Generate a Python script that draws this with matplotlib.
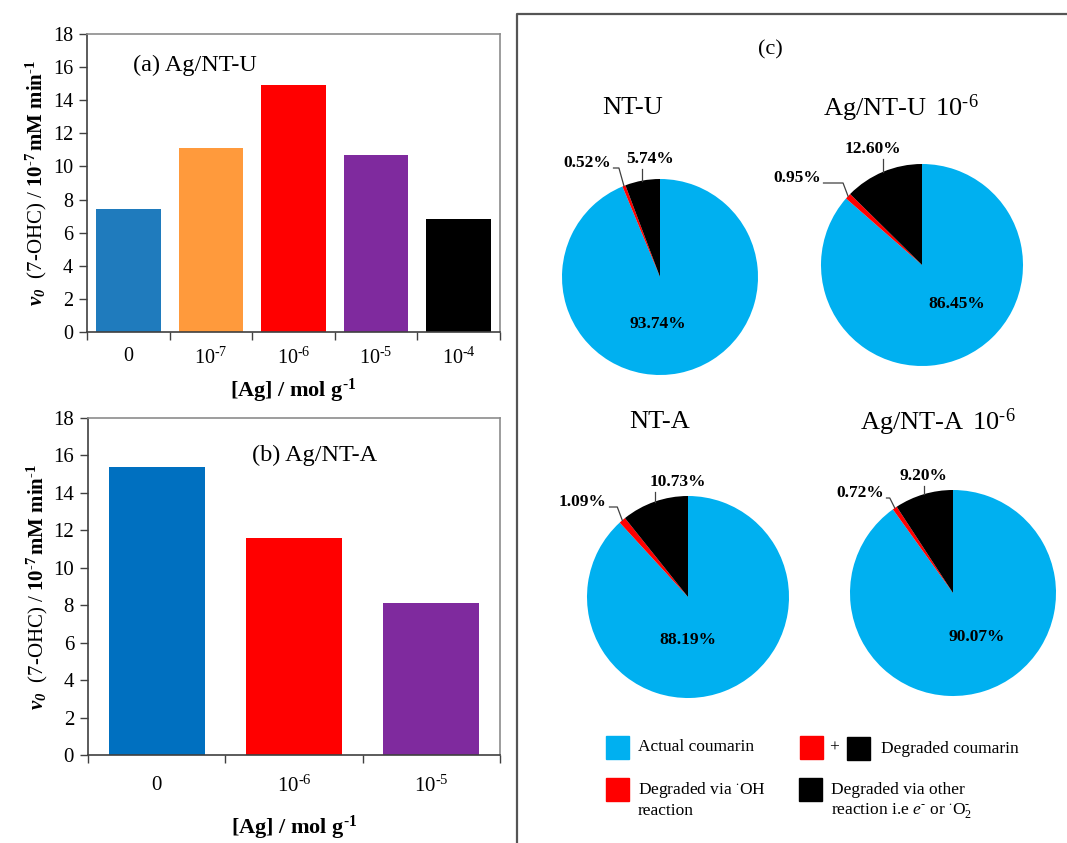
import numpy as np
import matplotlib
matplotlib.use("Agg")
import matplotlib.pyplot as plt
from matplotlib.patches import Rectangle

plt.rcParams['font.family'] = ['Liberation Serif', 'DejaVu Serif']
plt.rcParams['mathtext.fontset'] = 'custom'
plt.rcParams['mathtext.rm'] = 'Liberation Serif'
plt.rcParams['mathtext.it'] = 'Liberation Serif:italic'
plt.rcParams['mathtext.bf'] = 'Liberation Serif:bold'
plt.rcParams['mathtext.bfit'] = 'Liberation Serif:italic:bold'

HY = '\u2010'  # hyphen used in the exponents

# initial rate of 7-OHC formation, Ag/NT-U series
ag_u_labels = ['0', f'$10^{{{HY}7}}$', f'$10^{{{HY}6}}$', f'$10^{{{HY}5}}$', f'$10^{{{HY}4}}$']
ag_u_rate = [7.4, 11.1, 14.9, 10.7, 6.8]
ag_u_colors = ['#1f7bbd', '#ff9a3c', '#ff0000', '#7f2a9e', '#000000']

# Ag/NT-A series
ag_a_labels = ['0', f'$10^{{{HY}6}}$', f'$10^{{{HY}5}}$']
ag_a_rate = [15.4, 11.6, 8.1]
ag_a_colors = ['#0070c0', '#ff0000', '#7f2a9e']

# coumarin balance (%): actual, degraded via OH, degraded via other routes
pie_titles = ['NT-U', f'Ag/NT-U $\\,10^{{{HY}6}}$', 'NT-A', f'Ag/NT-A $\\,10^{{{HY}6}}$']
actual = [93.74, 86.45, 88.19, 90.07]
via_oh = [0.52, 0.95, 1.09, 0.72]
via_other = [5.74, 12.60, 10.73, 9.20]
pie_colors = ['#00b0f0', '#ff0000', '#000000']

YLABEL = f'$\\mathbfit{{v_0}}$  (7-OHC) / $\\mathbf{{10^{{{HY}7}}\\,mM\\ min^{{{HY}1}}}}$'
XLABEL = f'[Ag] / mol g$^{{\\mathbf{{{HY}1}}}}$'

W, H = 1067, 843
fig = plt.figure(figsize=(W / 100, H / 100), dpi=100)


def px_axes(left, top, right, bottom):
    return fig.add_axes([left / W, 1 - bottom / H, (right - left) / W, (bottom - top) / H])


def bar_panel(ax, labels, values, colors, width, title, title_xy, tick_fs, xtick_pad):
    x = np.arange(len(values))
    ax.bar(x, values, width=width, color=colors, zorder=2)
    ax.set_xlim(-0.5, len(values) - 0.5)
    ax.set_ylim(0, 18)
    ax.set_yticks(np.arange(0, 19, 2))
    ax.set_xticks(x)
    ax.set_xticklabels(labels, fontsize=tick_fs)
    ax.set_xticks(np.arange(-0.5, len(values)), minor=True)
    ax.tick_params(axis='x', which='major', length=0, pad=xtick_pad)
    ax.tick_params(axis='x', which='minor', length=6, width=1, color='#404040')
    ax.tick_params(axis='y', length=6, width=1, color='#404040', labelsize=tick_fs, pad=4)
    for s in ['left', 'bottom']:
        ax.spines[s].set_color('#404040')
        ax.spines[s].set_linewidth(1.2)
    for s in ['top', 'right']:
        ax.spines[s].set_color('#8c8c8c')
        ax.spines[s].set_linewidth(1.2)
    ax.text(*title_xy, title, transform=ax.transAxes, fontsize=17.5, ha='center', va='center')
    ax.set_ylabel(YLABEL, fontsize=15)
    ax.set_xlabel(XLABEL, fontsize=16, fontweight='bold')


ax_a = px_axes(87, 34, 500, 332)
bar_panel(ax_a, ag_u_labels, ag_u_rate, ag_u_colors, 0.78, '(a) Ag/NT-U', (0.26, 0.896), 14.5, 11)
ax_a.xaxis.labelpad = 6
ax_a.yaxis.labelpad = 3

ax_b = px_axes(88, 418, 500, 755)
bar_panel(ax_b, ag_a_labels, ag_a_rate, ag_a_colors, 0.70, '(b) Ag/NT-A', (0.55, 0.89), 15, 15)
ax_b.xaxis.labelpad = 12
ax_b.yaxis.labelpad = 2

# overlay in pixel units (y down) for panel (c)
ov = fig.add_axes([0, 0, 1, 1])
ov.patch.set_alpha(0)

ov.plot([517, 517, 1070], [850, 14, 14], color='#555555', lw=1.6, clip_on=False)
ov.text(770, 50, '(c)', fontsize=16, ha='center', va='center')

centers = [(660, 277), (922, 265), (688, 597), (953, 593)]
radii = [98, 101, 101, 103]
title_pos = [(633, 108), (901, 108), (660, 422), (938, 422)]
# label offsets from pie centre: actual, OH, other
lab_off = [
    [(-2, 47), (-73, -114), (-10, -118)],
    [(35, 39), (-125, -87), (-49, -116)],
    [(0, 43), (-105, -95), (-10, -115)],
    [(24, 44), (-93, -100), (-30, -117)],
]

for i in range(4):
    cx, cy = centers[i]
    r = radii[i]
    vals = [actual[i], via_oh[i], via_other[i]]
    ov.pie(vals, colors=pie_colors, startangle=-90, counterclock=True,
           center=(cx, cy), radius=r, frame=True,
           wedgeprops=dict(linewidth=0))
    ov.text(*title_pos[i], pie_titles[i], fontsize=19, ha='center', va='center')

    # wedge mid-angles measured clockwise from the top on screen
    fr = np.cumsum([0] + vals) / sum(vals) * 360
    for k in range(3):
        dx, dy = lab_off[i][k]
        tx, ty = cx + dx, cy + dy
        txt = f'{vals[k]:.2f}%'
        ov.text(tx, ty, txt, fontsize=12.5, fontweight='bold',
                ha='center', va='center')
        if k == 0:
            continue
        mid = np.radians((fr[k] + fr[k + 1]) / 2)
        wx, wy = cx + r * np.sin(mid), cy - r * np.cos(mid)
        if k == 2:
            ov.plot([wx, wx], [wy, ty + 10], color='#404040', lw=0.9)
        else:
            x0 = tx + 4.9 * len(txt) + 2
            ov.plot([x0, max(wx - 5, x0 + 3), wx], [ty + 5, ty + 5, wy],
                    color='#404040', lw=0.9)

# legend
fs_leg = 12.5
ov.add_patch(Rectangle((606, 736), 23, 23, color=pie_colors[0]))
ov.text(638, 747, 'Actual coumarin', fontsize=fs_leg, va='center')
ov.add_patch(Rectangle((800, 736), 23, 23, color=pie_colors[1]))
ov.text(834, 748, '+', fontsize=fs_leg, ha='center', va='center')
ov.add_patch(Rectangle((847, 737), 23, 23, color=pie_colors[2]))
ov.text(881, 749, 'Degraded coumarin', fontsize=fs_leg, va='center')
ov.add_patch(Rectangle((606, 778), 23, 23, color=pie_colors[1]))
ov.text(638, 790, 'Degraded via $^{\\bullet}$OH', fontsize=fs_leg, va='center')
ov.text(638, 811, 'reaction', fontsize=fs_leg, va='center')
ov.add_patch(Rectangle((799, 778), 23, 23, color=pie_colors[2]))
ov.text(831, 790, 'Degraded via other', fontsize=fs_leg, va='center')
ov.text(831, 811, f'reaction i.e $e^{{{HY}}}$ or $^{{\\bullet}}$O$_2^{{{HY}}}$',
        fontsize=fs_leg, va='center')

ov.set_xlim(0, W)
ov.set_ylim(H, 0)
ov.axis('off')

fig.savefig('out.png', dpi=100)
